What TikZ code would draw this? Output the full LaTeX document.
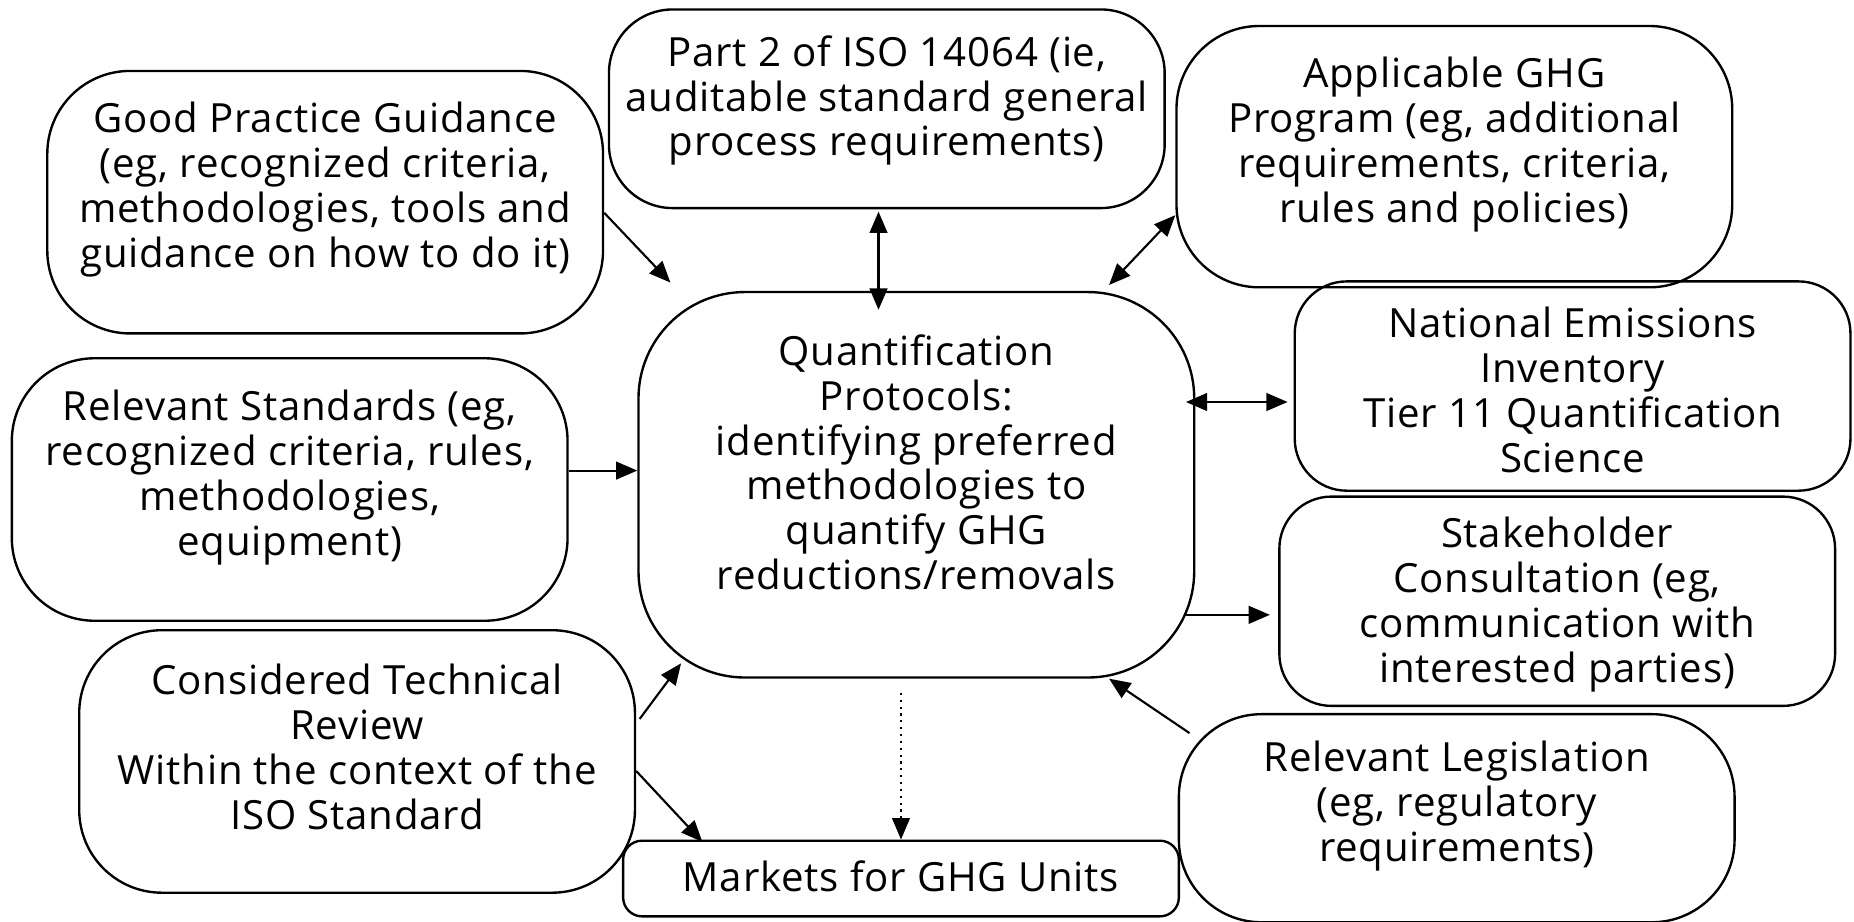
\documentclass[tikz,border=0pt]{standalone}
\usepackage{fontspec}
\setmainfont{Open Sans}[LetterSpace=2]
\usetikzlibrary{arrows.meta,calc}
\tikzset{
  box/.style={draw, line width=1pt, inner sep=0pt},
  txt/.style={align=center, inner sep=0pt, font=\fontsize{17}{19}\selectfont},
  conn/.style={line width=0.9pt, -{Triangle[length=9pt,width=7.5pt]}},
  bi/.style={line width=0.9pt, {Triangle[length=9pt,width=7.5pt]}-{Triangle[length=9pt,width=7.5pt]}},
}
\begin{document}
\begin{tikzpicture}[x=0.5pt,y=-0.5pt]
\useasboundingbox (0,0) rectangle (1568,779);
% boxes
\node[box, rounded corners=35pt, minimum width=235pt, minimum height=111pt] (gp) at (275,171) {};
\node[box, rounded corners=27pt, minimum width=235pt, minimum height=84pt] (p2) at (750,92) {};
\node[box, rounded corners=35pt, minimum width=235pt, minimum height=110.5pt] (ag) at (1230,132.5) {};
\node[box, rounded corners=35pt, minimum width=235pt, minimum height=111pt] (rs) at (245,414) {};
\node[box, rounded corners=45pt, minimum width=235pt, minimum height=163pt] (q) at (775,410) {};
\node[box, rounded corners=22pt, minimum width=235pt, minimum height=88.5pt] (ne) at (1330,326.5) {};
\node[box, rounded corners=22pt, minimum width=235pt, minimum height=88.5pt] (sc) at (1317,508.5) {};
\node[box, rounded corners=35pt, minimum width=235pt, minimum height=111pt] (ct) at (302,644) {};
\node[box, rounded corners=8pt, minimum width=235pt, minimum height=32pt] (m) at (762,743) {};
\node[box, rounded corners=35pt, minimum width=235pt, minimum height=88pt] (rl) at (1232,692) {};
% texts
\node[txt] (gpt) at (275,160) {Good Practice Guidance\\(eg, recognized criteria,\\methodologies, tools and\\guidance on how to do it)};
\node[txt] (p2t) at (750,85) {Part 2 of ISO 14064 (ie,\\auditable standard general\\process requirements)};
\node[txt] (agt) at (1230,122) {Applicable GHG\\Program (eg, additional\\requirements, criteria,\\rules and policies)};
\node[txt] (rst) at (245,404) {Relevant Standards (eg,\\recognized criteria, rules,\\methodologies,\\equipment)};
\node[txt] (qt) at (775,391) {Quantification\\Protocols:\\identifying preferred\\methodologies to\\quantify GHG\\reductions/removals};
\node[txt] (net) at (1330,330) {National Emissions\\Inventory\\Tier 11 Quantification\\Science};
\node[txt] (sct) at (1317,511) {Stakeholder\\Consultation (eg,\\communication with\\interested parties)};
\node[txt] (ctt) at (302,632) {Considered Technical\\Review\\Within the context of the\\ISO Standard};
\node[txt] (mt) at (762,741) {Markets for GHG Units};
\node[txt] (rlt) at (1232,682) {Relevant Legislation\\(eg, regulatory\\requirements)};
% connectors
\draw[conn] ($(gp.east)+(0,9)$) -- ($(q.north west)+(28,-7)$);
\draw[bi] ($(p2.south)+(-7,2)$) -- ($(q.north)+(-32,16)$);
\draw[bi] ($(ag.west)+(0,49.5)$) -- ($(q.north east)+(-73,-5)$);
\draw[conn] ($(rs.east)+(0,-16)$) -- ($(q.west)+(0,-12)$);
\draw[bi] ($(q.east)+(-8,-70)$) -- ($(ne.west)+(-5,13.5)$);
\draw[conn] ($(q.east)+(-8,110)$) -- ($(sc.west)+(-7,11.5)$);
\draw[conn] ($(rl.north west)+(10,17)$) -- ($(q.south east)+(-73,0)$);
\draw[conn] ($(ct.east)+(3,-36)$) -- ($(q.south west)+(37,-13)$);
\draw[conn] ($(ct.east)+(0,8)$) -- ($(m.north west)+(68,2)$);
\draw[conn, dotted, line width=0.6pt] ($(q.south)+(-13,12)$) -- (m.north);
\end{tikzpicture}
\end{document}
